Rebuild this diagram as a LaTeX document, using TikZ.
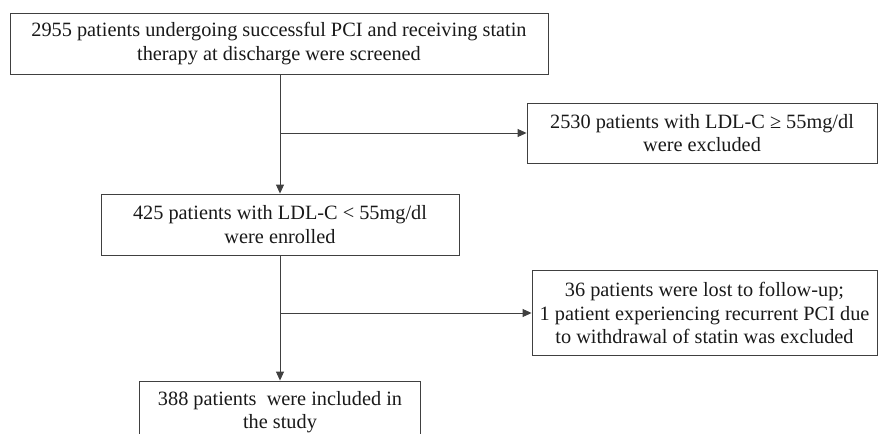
\documentclass[tikz,border=0pt]{standalone}
\usepackage{fontspec}
\setmainfont{Liberation Serif}
\usetikzlibrary{arrows.meta}
\tikzset{
  flowbox/.style={draw=black!75, line width=0.9pt, rectangle, align=center, inner sep=0pt,
    font=\fontsize{20.3}{23.5}\selectfont, text=black!90},
  flowarrow/.style={draw=black!75, line width=0.9pt, -{Triangle[length=9pt,width=8pt]}},
  flowline/.style={draw=black!75, line width=0.9pt}
}
\begin{document}
\begin{tikzpicture}[x=1pt,y=-1pt]
\useasboundingbox (0,0) rectangle (879,434);
\node[flowbox, minimum width=538pt, minimum height=61pt] (b1) at (279,43.5)
  {2955 patients undergoing successful PCI and receiving statin\\therapy at discharge were screened};
\node[flowbox, minimum width=350pt, minimum height=60pt] (b3) at (702,133)
  {2530 patients with LDL-C ≥ 55mg/dl\\were excluded};
\node[flowbox, minimum width=358pt, minimum height=61pt] (b2) at (280,224.5)
  {425 patients with LDL-C < 55mg/dl\\were enrolled};
\node[flowbox, minimum width=345pt, minimum height=85pt] (b4) at (704.5,313)
  {36 patients were lost to follow-up;\\1 patient experiencing recurrent PCI due\\to withdrawal of statin was excluded};
\node[flowbox, minimum width=281pt, minimum height=62pt] (b5) at (280,412)
  {388 patients\ \ were included in\\the study};
\coordinate (j1) at (280,133);
\coordinate (j2) at (280,313);
\draw[flowarrow] (b2.north |- b1.south) -- (b2.north);
\draw[flowarrow] (j1) -- (b3.west);
\draw[flowarrow] (b2.south) -- (b5.north);
\draw[flowarrow] (j2) -- (b4.west);
\end{tikzpicture}
\end{document}
